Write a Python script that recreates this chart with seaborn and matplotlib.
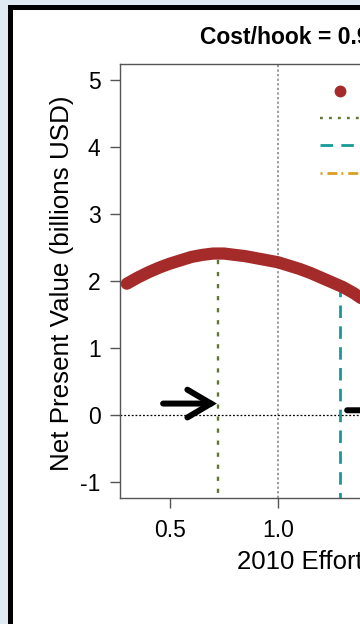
import matplotlib
matplotlib.use("Agg")
import matplotlib.pyplot as plt
import numpy as np
import pandas as pd
import seaborn as sns
from matplotlib.patches import Rectangle
from matplotlib.lines import Line2D

# ---------------- data ----------------
effort = [0.30, 0.35, 0.40, 0.45, 0.50, 0.55, 0.60, 0.65, 0.70, 0.75,
          0.80, 0.85, 0.90, 0.95, 1.00, 1.05, 1.10, 1.15, 1.20, 1.25,
          1.30, 1.35, 1.40, 1.45, 1.50]
npv = [1.96, 2.05, 2.13, 2.20, 2.26, 2.31, 2.36, 2.39, 2.41, 2.41,
       2.39, 2.37, 2.34, 2.31, 2.28, 2.23, 2.18, 2.12, 2.05, 1.98,
       1.91, 1.82, 1.71, 1.60, 1.48]
effort_max_npv = 0.722
npv_max = 2.41
effort_2010 = 1.287
npv_2010 = 1.93
reference_effort = 1.0
arrow_left = [0.468, 0.717, 0.17]   # x start, x end, y
arrow_right = [1.32, 1.62, 0.07]
xticks = [0.5, 1.0, 1.5]
xticklabels = ["0.5", "1.0", "1.5"]
yticks = [-1, 0, 1, 2, 3, 4, 5]
yticklabels = ["-1", "0", "1", "2", "3", "4", "5"]
title_text = "Cost/hook = 0.95"
xlabel_text = "2010 Effort multiplier"
ylabel_text = "Net Present Value (billions USD)"
legend_labels = ["NPV", "Maximum NPV", "2010 effort", "Break-even effort"]

# ---------------- style ----------------
sns.set_theme(style="ticks")
plt.rcParams["font.family"] = ["Liberation Sans", "DejaVu Sans"]

RED = "#a52a2a"
OLIVE = "#5f7630"
TEAL = "#17999a"
GOLD = "#d9a020"
SPINE = "#555555"

W, H = 360, 624
fig = plt.figure(figsize=(W / 100, H / 100), dpi=100)
fig.patch.set_facecolor("#dfeaf3")

# white panel with thick black border (extends beyond right/bottom)
panel = Rectangle((9.5 / W, -0.2), 1.5, 1 - 7.5 / H + 0.2,
                  transform=fig.transFigure, facecolor="white",
                  edgecolor="black", linewidth=3.6, zorder=-10)
fig.patches.append(panel)

xlo = 0.2685
xhi = 1.90
px_per_x = 216.0
ax_left, ax_top, ax_bottom = 120, 64, 498
ax_w = (xhi - xlo) * px_per_x
ax = fig.add_axes([ax_left / W, 1 - ax_bottom / H, ax_w / W, (ax_bottom - ax_top) / H])
ax.set_zorder(5)
ax.set_facecolor("none")

df = pd.DataFrame({"effort": effort, "npv": npv})
sns.lineplot(data=df, x="effort", y="npv", ax=ax, color=RED, linewidth=8.8,
             solid_capstyle="round", solid_joinstyle="round", zorder=4)

ylo, yhi = -1.24, 5.24
ax.set_xlim(xlo, xhi)
ax.set_ylim(ylo, yhi)

OLIVE_DASH = (0, (1.8, 3.3))
TEAL_DASH = (0, (4.5, 3))

# reference lines
ax.axvline(reference_effort, color="#808080", linestyle=(0, (1.5, 1.5)), linewidth=1.1, zorder=2)
ax.axhline(0, color="black", linestyle=(0, (1.5, 1.5)), linewidth=0.9, zorder=2)
ax.plot([effort_max_npv, effort_max_npv], [ylo - 0.1, npv_max], color=OLIVE,
        linestyle=OLIVE_DASH, linewidth=1.7, zorder=3)
ax.plot([effort_2010, effort_2010], [ylo - 0.1, npv_2010], color=TEAL,
        linestyle=TEAL_DASH, linewidth=2.0, zorder=3)

# arrows
for (x0, x1, yy) in [arrow_left, arrow_right]:
    ax.annotate("", xy=(x1, yy), xytext=(x0, yy),
                arrowprops=dict(arrowstyle="->,head_length=0.85,head_width=0.5",
                                lw=4.3, color="black", shrinkA=0, shrinkB=0,
                                mutation_scale=20, joinstyle="miter"),
                zorder=5)

# axes cosmetics
for s in ["left", "bottom", "top", "right"]:
    ax.spines[s].set_color(SPINE)
    ax.spines[s].set_linewidth(1.0)
ax.set_xticks(xticks)
ax.set_xticklabels(xticklabels, fontsize=16.5)
ax.set_yticks(yticks)
ax.set_yticklabels(yticklabels, fontsize=16.5)
ax.tick_params(axis="both", colors=SPINE, labelcolor="black",
               length=7, width=1.0, direction="out")
ax.tick_params(axis="x", pad=8)
ax.tick_params(axis="y", pad=7)
ax.set_xlabel("")
ax.set_ylabel("")

fig.text(62 / W, 1 - 283 / H, ylabel_text, rotation=90, ha="center", va="center",
         fontsize=18.7, color="black")
fig.text(237 / W, 1 - 562 / H, xlabel_text, ha="left", va="center",
         fontsize=18.5, color="black")
fig.text(200 / W, 1 - 38 / H, title_text, ha="left", va="center",
         fontsize=16.5, fontweight="bold", color="black")

handles = [
    Line2D([], [], color=RED, marker="o", linestyle="none", markersize=7.5),
    Line2D([], [], color=OLIVE, linestyle=(0, (1.2, 2.6)), linewidth=1.7),
    Line2D([], [], color=TEAL, linestyle=TEAL_DASH, linewidth=2.0),
    Line2D([], [], color=GOLD, linestyle=(0, (0.7, 1.8, 3.6, 1.4)), linewidth=2.0),
]
ax.legend(handles, legend_labels, loc="upper left",
          bbox_to_anchor=(320 / W, 1 - 84 / H), bbox_transform=fig.transFigure,
          frameon=False, fontsize=14, handlelength=2.06, borderpad=0,
          borderaxespad=0, labelspacing=0.5, handletextpad=0.8, numpoints=1)

fig.savefig("out.png", dpi=100)
